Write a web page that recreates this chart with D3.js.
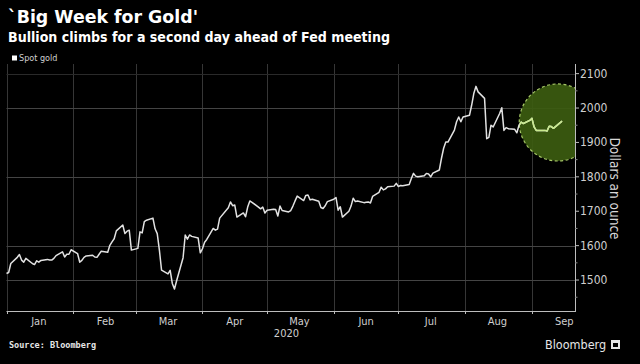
<!DOCTYPE html>
<html><head><meta charset="utf-8">
<script src="https://cdn.jsdelivr.net/npm/d3@7"></script>
<style>
html,body{margin:0;padding:0;background:#000;}
svg{display:block;}
</style></head>
<body>
<svg id="c" width="640" height="364"></svg>
<script>
// ---- data ----
const dates = [
"2020-01-01","2020-01-02","2020-01-03","2020-01-06","2020-01-07","2020-01-08","2020-01-09","2020-01-10",
"2020-01-13","2020-01-14","2020-01-15","2020-01-16","2020-01-17","2020-01-20","2020-01-21","2020-01-22",
"2020-01-23","2020-01-24","2020-01-27","2020-01-28","2020-01-29","2020-01-30","2020-01-31",
"2020-02-03","2020-02-04","2020-02-05","2020-02-06","2020-02-07","2020-02-10","2020-02-11","2020-02-12",
"2020-02-13","2020-02-14","2020-02-17","2020-02-18","2020-02-19","2020-02-20","2020-02-21","2020-02-24",
"2020-02-25","2020-02-26","2020-02-27","2020-02-28",
"2020-03-02","2020-03-03","2020-03-04","2020-03-05","2020-03-06","2020-03-09","2020-03-10","2020-03-11",
"2020-03-12","2020-03-13","2020-03-16","2020-03-17","2020-03-18","2020-03-19","2020-03-20","2020-03-23",
"2020-03-24","2020-03-25","2020-03-26","2020-03-27","2020-03-30","2020-03-31",
"2020-04-01","2020-04-02","2020-04-03","2020-04-06","2020-04-07","2020-04-08","2020-04-09","2020-04-13",
"2020-04-14","2020-04-15","2020-04-16","2020-04-17","2020-04-20","2020-04-21","2020-04-22","2020-04-23",
"2020-04-24","2020-04-27","2020-04-28","2020-04-29","2020-04-30",
"2020-05-01","2020-05-04","2020-05-05","2020-05-06","2020-05-07","2020-05-08","2020-05-11","2020-05-12",
"2020-05-13","2020-05-14","2020-05-15","2020-05-18","2020-05-19","2020-05-20","2020-05-21","2020-05-22",
"2020-05-25","2020-05-26","2020-05-27","2020-05-28","2020-05-29",
"2020-06-01","2020-06-02","2020-06-03","2020-06-04","2020-06-05","2020-06-08","2020-06-09","2020-06-10",
"2020-06-11","2020-06-12","2020-06-15","2020-06-16","2020-06-17","2020-06-18","2020-06-19","2020-06-22",
"2020-06-23","2020-06-24","2020-06-25","2020-06-26","2020-06-29","2020-06-30",
"2020-07-01","2020-07-02","2020-07-03","2020-07-06","2020-07-07","2020-07-08","2020-07-09","2020-07-10",
"2020-07-13","2020-07-14","2020-07-15","2020-07-16","2020-07-17","2020-07-20","2020-07-21","2020-07-22",
"2020-07-23","2020-07-24","2020-07-27","2020-07-28","2020-07-29","2020-07-30","2020-07-31",
"2020-08-03","2020-08-04","2020-08-05","2020-08-06","2020-08-07","2020-08-10","2020-08-11","2020-08-12",
"2020-08-13","2020-08-14","2020-08-17","2020-08-18","2020-08-19","2020-08-20","2020-08-21","2020-08-24",
"2020-08-25","2020-08-26","2020-08-27","2020-08-28","2020-08-31",
"2020-09-01","2020-09-02","2020-09-03","2020-09-04","2020-09-07","2020-09-08","2020-09-09","2020-09-10",
"2020-09-11","2020-09-14","2020-09-15"
];
const spotGold = [
1519,1522,1548,1566,1574,1558,1552,1563,
1548,1545,1556,1552,1557,1560,1558,1558,
1563,1571,1582,1567,1575,1575,1588,
1577,1552,1557,1566,1570,1572,1567,1566,
1575,1584,1581,1601,1611,1620,1643,1660,
1635,1642,1645,1587,
1592,1640,1637,1670,1674,1680,1649,1635,
1587,1529,1518,1528,1490,1474,1498,1565,
1631,1619,1631,1627,1622,1579,
1591,1610,1618,1650,1645,1648,1680,1710,
1727,1716,1718,1683,1695,1684,1712,1730,
1726,1712,1707,1712,1695,
1703,1706,1705,1686,1715,1702,1698,1702,
1715,1730,1744,1731,1746,1747,1733,1735,
1729,1711,1708,1716,1728,
1735,1740,1703,1713,1683,1700,1715,1738,
1728,1730,1725,1726,1727,1724,1743,1755,
1770,1762,1765,1771,1773,1781,
1772,1775,1774,1778,1795,1810,1802,1800,
1803,1810,1808,1800,1811,1820,1854,1883,
1901,1901,1936,1960,1974,1960,1974,
1979,2008,2042,2063,2047,2028,1911,1915,
1950,1945,1984,2001,1935,1943,1940,1938,
1928,1950,1959,1955,1964,
1970,1945,1935,1935,1935,1933,1947,1946,
1941,1957,1962
];
const yTicks = [1500,1600,1700,1800,1900,2000,2100];
const yMinorTicks = [1450,1550,1650,1750,1850,1950,2050];
const gridValues = [1500,1600,1800,2000,2100];
const monthLabels = ["Jan","Feb","Mar","Apr","May","Jun","Jul","Aug","Sep"];
const yearLabel = "2020";
const titleText = "`Big Week for Gold'";
const subtitleText = "Bullion climbs for a second day ahead of Fed meeting";
const legendText = "Spot gold";
const yAxisTitle = "Dollars an ounce";
const sourceText = "Source: Bloomberg";
const brandText = "Bloomberg";
// highlight annotation (centre date/value, radius expressed in dollars)
const highlightCenter = {date:"2020-09-13", value:1958, radius:112};

// ---- setup ----
const parse = d3.timeParse("%Y-%m-%d");
const data = dates.map((d,i)=>({date:parse(d), value:spotGold[i]}));
const svg = d3.select("#c");
const W = 640, H = 364;
const plot = {left:6.5, right:575, top:64, bottom:311};

const x = d3.scaleTime().domain([parse("2020-01-01"), parse("2020-09-21")]).range([plot.left, plot.right]);
const y = d3.scaleLinear().domain([1410, 2128]).range([plot.bottom, plot.top]);

svg.append("rect").attr("width",W).attr("height",H).attr("fill","#000");

const condensed = "'Liberation Sans Narrow','DejaVu Sans Condensed','Roboto Condensed','Liberation Sans',sans-serif";

// titles
svg.append("text").attr("x",8).attr("y",23).text(titleText)
  .attr("fill","#fff").attr("font-family","'DejaVu Sans',sans-serif").attr("font-weight","bold")
  .attr("font-size",17).attr("textLength",190).attr("lengthAdjust","spacingAndGlyphs");
svg.append("text").attr("x",8).attr("y",42).text(subtitleText)
  .attr("fill","#fff").attr("font-family","'DejaVu Sans',sans-serif").attr("font-weight","bold")
  .attr("font-size",13.5).attr("textLength",382).attr("lengthAdjust","spacingAndGlyphs");

// legend
svg.append("rect").attr("x",12).attr("y",55.5).attr("width",5).attr("height",5).attr("fill","#fff");
svg.append("text").attr("x",19).attr("y",61).text(legendText)
  .attr("fill","#cfcfcf").attr("font-family",condensed).attr("font-size",9);

// gridlines
const months = d3.timeMonth.range(parse("2020-01-01"), parse("2020-09-21"));
svg.append("g").selectAll("line").data(months).join("line")
  .attr("x1",d=>Math.round(x(d))+0.5).attr("x2",d=>Math.round(x(d))+0.5)
  .attr("y1",plot.top).attr("y2",plot.bottom)
  .attr("stroke","#363636").attr("stroke-width",1);
svg.append("g").selectAll("line").data(gridValues).join("line")
  .attr("x1",plot.left).attr("x2",plot.right)
  .attr("y1",d=>Math.round(y(d))+0.5).attr("y2",d=>Math.round(y(d))+0.5)
  .attr("stroke",d=>d===2100?"#2a2a2a":"#444").attr("stroke-width",1);

// highlight circle (clipped to plot)
svg.append("clipPath").attr("id","plotclip").append("rect")
  .attr("x",plot.left).attr("y",plot.top-40).attr("width",plot.right-plot.left).attr("height",plot.bottom-plot.top+40);
const cx = x(parse(highlightCenter.date)), cy = y(highlightCenter.value);
const r = y(highlightCenter.value - highlightCenter.radius) - cy;
svg.append("circle").attr("cx",cx).attr("cy",cy).attr("r",r)
  .attr("clip-path","url(#plotclip)")
  .attr("fill","rgb(60,92,16)").attr("fill-opacity",0.92)
  .attr("stroke","#a6c866").attr("stroke-width",1.2).attr("stroke-dasharray","3,2.5");

// line
const line = d3.line().x(d=>x(d.date)).y(d=>y(d.value)).curve(d3.curveLinear);
svg.append("path").datum(data).attr("d",line)
  .attr("fill","none").attr("stroke","#e2e2e2").attr("stroke-width",1.5).attr("stroke-linejoin","round");
svg.append("clipPath").attr("id","circclip").append("circle").attr("cx",cx).attr("cy",cy).attr("r",r);
svg.append("path").datum(data).attr("d",line).attr("clip-path","url(#circclip)")
  .attr("fill","none").attr("stroke","#c9ea8e").attr("stroke-width",1.5).attr("stroke-linejoin","round");

// right axis
const ax = svg.append("g").attr("transform",`translate(${plot.right},0)`);
ax.append("line").attr("x1",0.5).attr("x2",0.5).attr("y1",plot.top).attr("y2",plot.bottom).attr("stroke","#bdbdbd");
ax.selectAll("line.maj").data(yTicks).join("line").attr("class","maj")
  .attr("x1",0).attr("x2",4).attr("y1",d=>y(d)).attr("y2",d=>y(d)).attr("stroke","#bdbdbd");
ax.selectAll("line.min").data(yMinorTicks).join("line").attr("class","min")
  .attr("x1",0).attr("x2",2.5).attr("y1",d=>y(d)).attr("y2",d=>y(d)).attr("stroke","#888");
ax.selectAll("text").data(yTicks).join("text")
  .attr("x",5).attr("y",d=>y(d)+4).text(d=>d)
  .attr("fill","#cfcfcf").attr("font-family",condensed).attr("font-size",12);
svg.append("text").attr("transform",`translate(610,${(plot.top+plot.bottom)/2+1}) rotate(90)`)
  .attr("text-anchor","middle").text(yAxisTitle)
  .attr("fill","#d8d8d8").attr("font-family",condensed).attr("font-size",13.5);

// bottom axis
const bx = svg.append("g").attr("transform",`translate(0,${plot.bottom})`);
bx.append("line").attr("x1",plot.left).attr("x2",plot.right+1).attr("y1",0.5).attr("y2",0.5).attr("stroke","#bdbdbd");
bx.selectAll("line.t").data(months).join("line").attr("class","t")
  .attr("x1",d=>Math.round(x(d))+0.5).attr("x2",d=>Math.round(x(d))+0.5).attr("y1",0).attr("y2",3).attr("stroke","#bdbdbd");
bx.selectAll("text").data(months).join("text")
  .attr("x",d=>x(d3.timeDay.offset(d,15))).attr("y",13.5).attr("text-anchor","middle")
  .text((d,i)=>monthLabels[i])
  .attr("fill","#cfcfcf").attr("font-family",condensed).attr("font-size",11);
svg.append("text").attr("x",x(parse("2020-05-10"))).attr("y",plot.bottom+26).attr("text-anchor","middle")
  .text(yearLabel).attr("fill","#cfcfcf").attr("font-family",condensed).attr("font-size",11);

// footer
svg.append("text").attr("x",9).attr("y",348).text(sourceText)
  .attr("fill","#e6e6e6").attr("font-family","'DejaVu Sans Mono','DejaVu Sans',monospace").attr("font-weight","bold")
  .attr("font-size",8.5);
svg.append("text").attr("x",545).attr("y",349).text(brandText)
  .attr("fill","#e6e6e6").attr("font-family",condensed).attr("font-size",12.5);
svg.append("rect").attr("x",611).attr("y",340).attr("width",9).attr("height",9).attr("fill","#e6e6e6");
svg.append("rect").attr("x",613).attr("y",343).attr("width",5).attr("height",4).attr("fill","#000");
</script>
</body></html>
